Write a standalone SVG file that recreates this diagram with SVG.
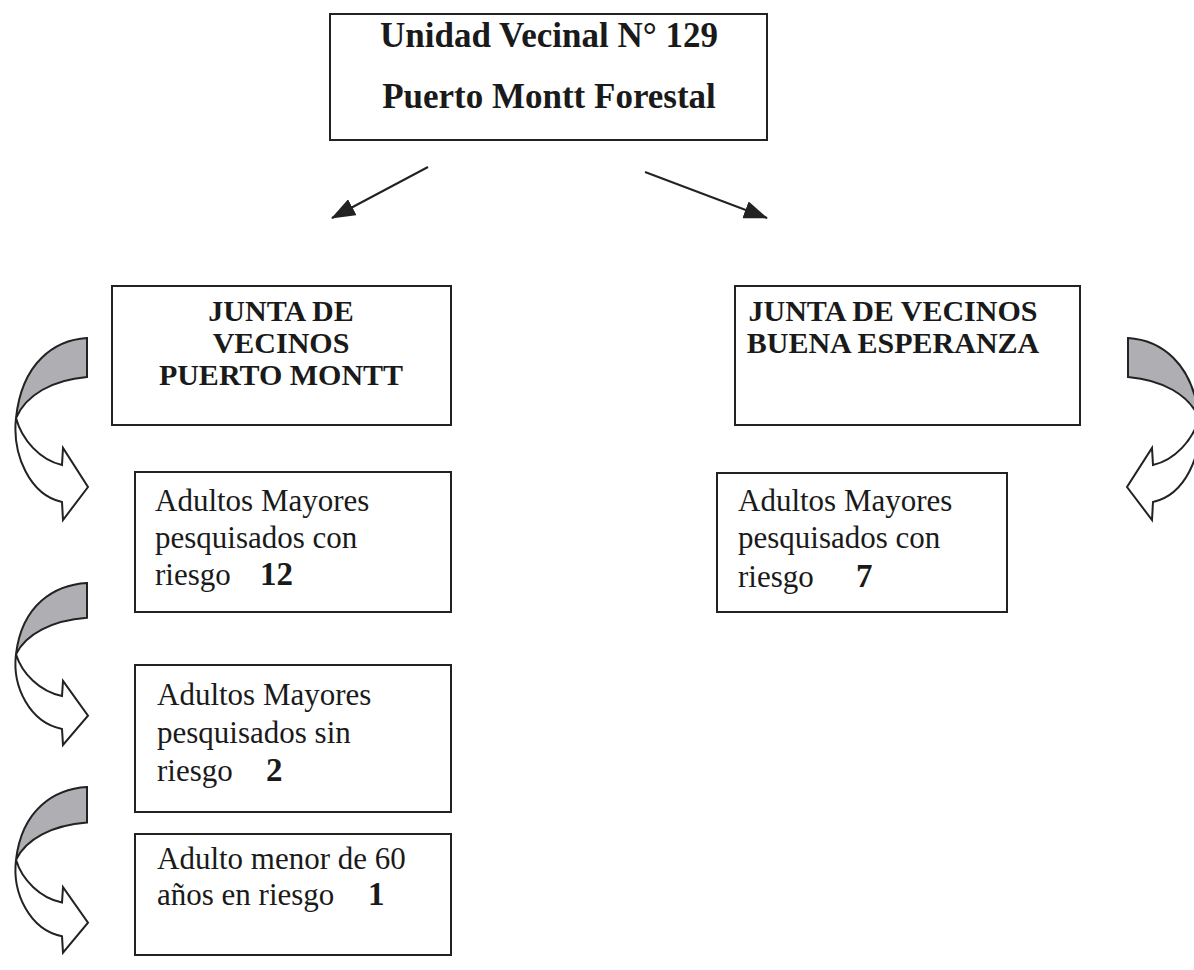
<svg xmlns="http://www.w3.org/2000/svg" xmlns:xlink="http://www.w3.org/1999/xlink" width="1194" height="970" viewBox="0 0 1194 970">
<style>
.box{fill:#fff;stroke:#222;stroke-width:2}
.t{font-family:"Liberation Serif","Times New Roman",serif;fill:#1a1a1a}
.b{font-weight:bold}
.title{font-size:35px}
.head{font-size:30px}
.body{font-size:31px}
.num{font-size:33px;font-weight:bold}
.conn{stroke:#222;stroke-width:2;fill:none}
.gray{fill:#aeaeb3;stroke:#222;stroke-width:2;vector-effect:non-scaling-stroke}
.white{fill:#fff;stroke:#222;stroke-width:2;vector-effect:non-scaling-stroke}
</style>
<defs>
<marker id="ah" markerUnits="userSpaceOnUse" markerWidth="24" markerHeight="18" refX="23" refY="9" orient="auto">
<path d="M0,0 L24,9 L0,18 Z" fill="#222"/>
</marker>
<g id="curl">
<path class="gray" d="M87,338 C55,340 22,362 16,418 C26,395 52,380 87,377 Z"/>
<path class="white" d="M16,418 C12,455 30,495 62,502 L63,520 L88,487 L63,448 L62,465 C40,460 22,440 16,418 Z"/>
</g>
</defs>
<rect width="1194" height="970" fill="#fff"/>

<g id="connectors">
<line class="conn" x1="428" y1="167" x2="332" y2="218" marker-end="url(#ah)"/>
<line class="conn" x1="645" y1="172" x2="767" y2="218" marker-end="url(#ah)"/>
<use xlink:href="#curl"/>
<use xlink:href="#curl" transform="translate(0,583) scale(1,0.89) translate(0,-338)"/>
<use xlink:href="#curl" transform="translate(0,787) scale(1,0.91) translate(0,-338)"/>
<use xlink:href="#curl" transform="translate(1215,0) scale(-1,1)"/>
</g>

<g id="node-unidad">
<rect class="box" x="330" y="14" width="437" height="126"/>
<text class="t b title" x="549" y="47" text-anchor="middle">Unidad Vecinal  N° 129</text>
<text class="t b title" x="549" y="108" text-anchor="middle">Puerto Montt Forestal</text>
</g>

<g id="node-jv-puerto-montt">
<rect class="box" x="112" y="286" width="339" height="139"/>
<text class="t b head" x="281" y="321" text-anchor="middle">JUNTA DE</text>
<text class="t b head" x="281" y="353" text-anchor="middle">VECINOS</text>
<text class="t b head" x="281" y="385" text-anchor="middle">PUERTO MONTT</text>
</g>

<g id="node-jv-buena-esperanza">
<rect class="box" x="735" y="286" width="345" height="139"/>
<text class="t b head" x="893" y="321" text-anchor="middle">JUNTA DE VECINOS</text>
<text class="t b head" x="893" y="353" text-anchor="middle">BUENA ESPERANZA</text>
</g>

<g id="node-pm-con-riesgo">
<rect class="box" x="135" y="472" width="316" height="140"/>
<text class="t body" x="155" y="511">Adultos Mayores</text>
<text class="t body" x="155" y="548">pesquisados con</text>
<text class="t body" x="155" y="585">riesgo</text>
<text class="t num" x="260" y="585">12</text>
</g>

<g id="node-pm-sin-riesgo">
<rect class="box" x="135" y="665" width="316" height="147"/>
<text class="t body" x="157" y="705">Adultos Mayores</text>
<text class="t body" x="157" y="743">pesquisados sin</text>
<text class="t body" x="157" y="781">riesgo</text>
<text class="t num" x="266" y="781">2</text>
</g>

<g id="node-pm-menor-60">
<rect class="box" x="135" y="834" width="316" height="121"/>
<text class="t body" x="157" y="869">Adulto menor de 60</text>
<text class="t body" x="157" y="905">años en riesgo</text>
<text class="t num" x="368" y="905">1</text>
</g>

<g id="node-be-con-riesgo">
<rect class="box" x="717" y="473" width="290" height="139"/>
<text class="t body" x="738" y="511">Adultos Mayores</text>
<text class="t body" x="738" y="548">pesquisados con</text>
<text class="t body" x="738" y="587">riesgo</text>
<text class="t num" x="856" y="587">7</text>
</g>
</svg>
